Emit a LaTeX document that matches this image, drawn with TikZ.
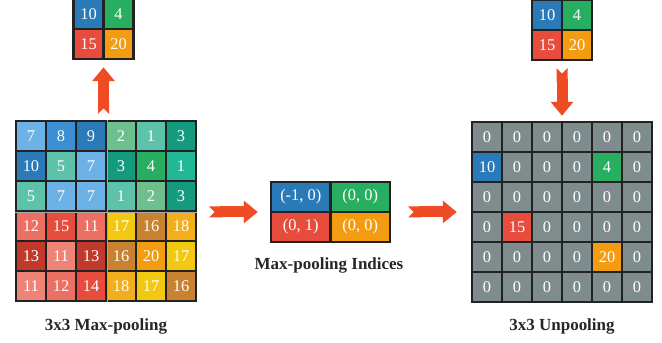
\documentclass[tikz,border=0pt]{standalone}
\usepackage{fontspec}
\setmainfont{Liberation Serif}
\usepackage{tikz}
\usetikzlibrary{arrows.meta,positioning}

\definecolor{gridline}{HTML}{222222}
\definecolor{arrowred}{HTML}{EF4B24}
\definecolor{pbluel}{HTML}{6CB2E6}
\definecolor{pbluem}{HTML}{3B8FD2}
\definecolor{pblued}{HTML}{2A7AB8}
\definecolor{pgreenl}{HTML}{6DC08E}
\definecolor{pturql}{HTML}{5CC2AA}
\definecolor{pteald}{HTML}{149A7E}
\definecolor{pgreen}{HTML}{27AE60}
\definecolor{pturq}{HTML}{22B897}
\definecolor{predl}{HTML}{EC6F63}
\definecolor{predll}{HTML}{F08378}
\definecolor{pred}{HTML}{E74C3C}
\definecolor{predd}{HTML}{C0392B}
\definecolor{pyellow}{HTML}{F2C811}
\definecolor{pbrown}{HTML}{C98230}
\definecolor{pamber}{HTML}{F3AE1B}
\definecolor{porange}{HTML}{F39C12}
\definecolor{pgray}{HTML}{7F8C8D}

\begin{document}
\begin{tikzpicture}[x=0.03cm,y=-0.03cm]
        \def\cellsize{0.9cm}
        \def\widecell{1.785cm}

        \tikzset{cell/.style={
           draw=gridline,
           line width=2.5pt,
           minimum width=\cellsize,
           minimum height=\cellsize,
           inner sep=0pt,
           text=white,
           font=\fontsize{14}{14}\selectfont
        }}
        \tikzset{frame/.style={
           inner sep=0pt,
           minimum width=5.4cm,
           minimum height=5.4cm
        }}
        \tikzset{bigarrow/.style={
           draw=arrowred,
           line width=0.33cm,
           {Triangle Cap[reversed]}-{Triangle[length=0.42cm,width=0.66cm]}
        }}
        \tikzset{caption/.style={
           font=\fontsize{14.5}{15}\selectfont\bfseries,
           text=black!85
        }}

        \useasboundingbox (0,0) rectangle (662,343);

        % Max-pooling input
        \node[frame] (pool) at (106,211) {};
        \foreach \c/\r/\v/\col in {
            0/0/7/pbluel, 1/0/8/pbluem, 2/0/9/pblued, 3/0/2/pgreenl, 4/0/1/pturql, 5/0/3/pteald,
            0/1/10/pblued, 1/1/5/pturql, 2/1/7/pbluel, 3/1/3/pteald, 4/1/4/pgreen, 5/1/1/pturq,
            0/2/5/pturql, 1/2/7/pbluel, 2/2/7/pbluel, 3/2/1/pturql, 4/2/2/pgreenl, 5/2/3/pteald,
            0/3/12/predl, 1/3/15/pred, 2/3/11/predl, 3/3/17/pyellow, 4/3/16/pbrown, 5/3/18/pamber,
            0/4/13/predd, 1/4/11/predll, 2/4/13/predd, 3/4/16/pbrown, 4/4/20/porange, 5/4/17/pyellow,
            0/5/11/predll, 1/5/12/predl, 2/5/14/pred, 3/5/18/pamber, 4/5/17/pyellow, 5/5/16/pbrown}
        {
            \node[cell, fill=\col] (pool-\r-\c) at ({31+30*\c},{136+30*\r}) {\v};
        }
        \draw[gray!70, line width=0.4pt] (pool-0-2.north east) -- (pool-5-2.south east);
        \draw[gray!70, line width=0.4pt] (pool-2-0.south west) -- (pool-2-5.south east);
        \node[caption] (poolcap) at (106,326) {3x3 Max-pooling};

        % Max-pooling output
        \node[inner sep=0pt, minimum width=1.8cm, minimum height=1.8cm] (poolout) at (103.5,29) {};
        \node[cell, fill=pblued] (poolout-0-0) at (88.5,14) {10};
        \node[cell, fill=pgreen] (poolout-0-1) at (118.5,14) {4};
        \node[cell, fill=pred] (poolout-1-0) at (88.5,44) {15};
        \node[cell, fill=porange] (poolout-1-1) at (118.5,44) {20};

        % Indices
        \node[inner sep=0pt, minimum width=3.57cm, minimum height=1.8cm] (idx) at (330.5,212) {};
        \node[cell, fill=pblued, minimum width=\widecell] (idx-0-0) at (300.75,197) {(-1, 0)};
        \node[cell, fill=pgreen, minimum width=\widecell] (idx-0-1) at (360.25,197) {(0, 0)};
        \node[cell, fill=pred, minimum width=\widecell] (idx-1-0) at (300.75,227) {(0, 1)};
        \node[cell, fill=porange, minimum width=\widecell] (idx-1-1) at (360.25,227) {(0, 0)};
        \node[caption] (idxcap) at (329,265) {Max-pooling Indices};

        % Unpooling input
        \node[inner sep=0pt, minimum width=1.8cm, minimum height=1.8cm] (unpoolin) at (562,30) {};
        \node[cell, fill=pblued] (unpoolin-0-0) at (547,15) {10};
        \node[cell, fill=pgreen] (unpoolin-0-1) at (577,15) {4};
        \node[cell, fill=pred] (unpoolin-1-0) at (547,45) {15};
        \node[cell, fill=porange] (unpoolin-1-1) at (577,45) {20};

        % Unpooling output
        \node[frame] (unpool) at (562,212) {};
        \foreach \c/\r/\v/\col in {
            0/0/0/pgray, 1/0/0/pgray, 2/0/0/pgray, 3/0/0/pgray, 4/0/0/pgray, 5/0/0/pgray,
            0/1/10/pblued, 1/1/0/pgray, 2/1/0/pgray, 3/1/0/pgray, 4/1/4/pgreen, 5/1/0/pgray,
            0/2/0/pgray, 1/2/0/pgray, 2/2/0/pgray, 3/2/0/pgray, 4/2/0/pgray, 5/2/0/pgray,
            0/3/0/pgray, 1/3/15/pred, 2/3/0/pgray, 3/3/0/pgray, 4/3/0/pgray, 5/3/0/pgray,
            0/4/0/pgray, 1/4/0/pgray, 2/4/0/pgray, 3/4/0/pgray, 4/4/20/porange, 5/4/0/pgray,
            0/5/0/pgray, 1/5/0/pgray, 2/5/0/pgray, 3/5/0/pgray, 4/5/0/pgray, 5/5/0/pgray}
        {
            \node[cell, fill=\col] (unpool-\r-\c) at ({487+30*\c},{137+30*\r}) {\v};
        }
        \node[caption] (unpoolcap) at (562,326) {3x3 Unpooling};

        % Arrows
        \draw[bigarrow, shorten <=0.21cm, shorten >=0.24cm] (poolout.south |- pool.north) -- (poolout.south);
        \draw[bigarrow, shorten <=0.39cm, shorten >=0.39cm] (pool.east |- idx.west) -- (idx.west);
        \draw[bigarrow, shorten <=0.54cm, shorten >=0.45cm] (idx.east) -- (unpool.west |- idx.east);
        \draw[bigarrow, shorten <=0.24cm, shorten >=0.18cm] (unpoolin.south) -- (unpool.north);
    \end{tikzpicture}
\end{document}
